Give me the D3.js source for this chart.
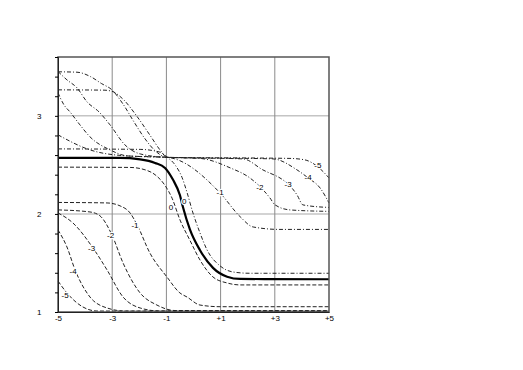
<!DOCTYPE html>
<html>
<head>
<meta charset="utf-8">
<script src="https://cdn.jsdelivr.net/npm/d3@7"></script>
<style>
  body { margin: 0; background: #fff; }
  text { font-family: "Liberation Sans", Arial, sans-serif; }
</style>
</head>
<body>
<svg width="523" height="370"></svg>
<script>
// tick values
var xTicks = [-5, -3, -1, 1, 3, 5];
var yTicks = [1, 2, 3];
var xGrid = [-3, -1, 1, 3];
var yGrid = [2, 3];

// bold reference curve
var solid = [[-5, 2.571], [-2.71, 2.571], [-1.97, 2.556], [-1.42, 2.52], [-1.05, 2.469], [-0.76, 2.35],
    [-0.5, 2.19], [-0.39, 2.07], [-0.13, 1.84], [0.24, 1.63], [0.72, 1.45], [1.24, 1.36], [1.72, 1.337], [5, 1.334]];

// dashed family
var dash0 = [[-5, 2.477], [-2.34, 2.474], [-1.79, 2.45], [-1.42, 2.40], [-1.05, 2.29], [-0.79, 2.16], [-0.5, 1.94],
    [-0.13, 1.73], [0.24, 1.53], [0.72, 1.357], [1.24, 1.296], [1.72, 1.276], [5, 1.276]];
var dash1 = [[-5, 2.117], [-3.19, 2.112], [-2.71, 2.082], [-2.34, 2.010], [-2.08, 1.888], [-1.61, 1.602],
    [-0.98, 1.357], [-0.5, 1.194], [-0.24, 1.153], [0.24, 1.071], [0.98, 1.054], [5, 1.054]];
var dash2 = [[-5, 2.041], [-3.82, 2.020], [-3.45, 1.980], [-3.01, 1.786], [-2.6, 1.500], [-1.97, 1.194],
    [-1.35, 1.071], [-0.68, 1.015], [5, 1.013]];
var dash3 = [[-5, 2.010], [-4.45, 1.908], [-3.71, 1.653], [-3.19, 1.429], [-2.6, 1.153], [-1.97, 1.041],
    [-1.24, 1.010], [5, 1.010]];
var dash4 = [[-5, 1.837], [-4.67, 1.663], [-4.37, 1.429], [-3.82, 1.153], [-3.19, 1.041], [-2.53, 1.010], [5, 1.008]];
var dash5 = [[-5, 1.316], [-4.67, 1.194], [-4.08, 1.051], [-3.56, 1.010], [5, 1.007]];

// dash-dot family
var dd0 = [[-5, 2.663], [-1.97, 2.658], [-1.24, 2.63], [-0.98, 2.58], [-0.68, 2.50], [-0.42, 2.37], [-0.24, 2.22],
    [-0.02, 2.01], [0.24, 1.806], [0.5, 1.633], [0.98, 1.47], [1.46, 1.408], [2.08, 1.395], [5, 1.395]];
var dd1 = [[-5, 2.806], [-3.82, 2.653], [-2.49, 2.592], [-0.98, 2.577], [0.98, 2.214], [1.72, 1.972],
    [2.2, 1.867], [3.19, 1.842], [5, 1.842]];
var dd2 = [[-5, 3.235], [-4.78, 3.112], [-4.56, 3.041], [-4.19, 2.908], [-3.82, 2.786], [-3.08, 2.653],
    [-2.45, 2.592], [-0.98, 2.577], [0.24, 2.566], [1.35, 2.47], [2.08, 2.367], [2.45, 2.279], [2.82, 2.163],
    [3.01, 2.092], [3.56, 2.041], [5, 2.026]];
var dd3 = [[-5, 3.452], [-4.67, 3.367], [-4.30, 3.286], [-3.93, 3.143], [-3.49, 3.041], [-3.08, 2.908],
    [-2.53, 2.704], [-1.97, 2.612], [-0.98, 2.577], [1.83, 2.561], [2.56, 2.449], [3.30, 2.347], [3.49, 2.306],
    [3.82, 2.194], [4.04, 2.092], [5, 2.066]];
var dd4 = [[-5, 3.449], [-4.3, 3.445], [-3.8, 3.40], [-3.4, 3.33], [-3.01, 3.265], [-2.6, 3.12], [-2.2, 2.94],
    [-1.8, 2.77], [-1.4, 2.64], [-0.98, 2.577], [2.93, 2.561], [3.82, 2.449], [4.23, 2.367], [4.67, 2.265], [5, 2.112]];
var dd5 = [[-5, 3.265], [-3.3, 3.262], [-3.01, 3.25], [-2.6, 3.17], [-2.1, 3.0], [-1.6, 2.8], [-1.2, 2.64],
    [-0.98, 2.577], [3.56, 2.566], [4.11, 2.551], [4.59, 2.480], [5, 2.367]];

// curve labels
var dashLabels = [["0", -0.83, 2.07], ["-1", -2.16, 1.888], ["-2", -3.06, 1.786], ["-3", -3.76, 1.653],
    ["-4", -4.44, 1.411], ["-5", -4.74, 1.173]];
var ddLabels = [["0", -0.34, 2.126], ["-1", 0.98, 2.224], ["-2", 2.45, 2.276], ["-3", 3.49, 2.306],
    ["-4", 4.23, 2.378], ["-5", 4.59, 2.5]];

var svg = d3.select("svg");
var margin = { left: 58, top: 57, right: 329, bottom: 312 };

var x = d3.scaleLinear().domain([-5, 5]).range([margin.left, margin.right]);
var y = d3.scaleLinear().domain([1, 3.6]).range([margin.bottom, margin.top]);

var line = d3.line()
    .x(function (d) { return x(d[0]); })
    .y(function (d) { return y(d[1]); })
    .curve(d3.curveMonotoneX);

// grid
svg.append("g").selectAll("line").data(yGrid).enter().append("line")
    .attr("x1", margin.left).attr("x2", margin.right)
    .attr("y1", function (d) { return y(d); }).attr("y2", function (d) { return y(d); })
    .attr("stroke", "#c4c4c4").attr("stroke-width", 1.5);
svg.append("g").selectAll("line").data(xGrid).enter().append("line")
    .attr("y1", margin.top).attr("y2", margin.bottom)
    .attr("x1", function (d) { return x(d); }).attr("x2", function (d) { return x(d); })
    .attr("stroke", "#8a8a8a").attr("stroke-width", 1);

// curves
var curves = svg.append("g").attr("fill", "none");
[dash0, dash1, dash2, dash3, dash4, dash5].forEach(function (s) {
    curves.append("path").datum(s).attr("d", line)
        .attr("stroke", "#222").attr("stroke-width", 1).attr("stroke-dasharray", "4,2");
});
[dd0, dd1, dd2, dd3, dd4, dd5].forEach(function (s) {
    curves.append("path").datum(s).attr("d", line)
        .attr("stroke", "#222").attr("stroke-width", 1).attr("stroke-dasharray", "4,2,1,2");
});
curves.append("path").datum(solid).attr("d", line)
    .attr("stroke", "#000").attr("stroke-width", 2.2);

// labels on curves
svg.append("g").selectAll("text").data(dashLabels.concat(ddLabels)).enter().append("text")
    .attr("x", function (d) { return x(d[1]); })
    .attr("y", function (d) { return y(d[2]); })
    .attr("dy", "0.35em")
    .attr("text-anchor", "middle")
    .attr("font-size", 8)
    .attr("stroke", "#fff").attr("stroke-width", 2.5).attr("paint-order", "stroke")
    .attr("fill", "#000")
    .text(function (d) { return d[0]; });

// frame
svg.append("rect")
    .attr("x", margin.left).attr("y", margin.top)
    .attr("width", margin.right - margin.left).attr("height", margin.bottom - margin.top)
    .attr("fill", "none").attr("stroke", "#555").attr("stroke-width", 1.5);

// axes
var yAxis = d3.axisLeft(y).tickValues(d3.range(1, 3.61, 0.2)).tickSize(3).tickFormat("");
svg.append("g").attr("transform", "translate(" + margin.left + ",0)").call(yAxis)
    .call(function (g) { g.select(".domain").attr("stroke", "#222"); });
svg.append("g").selectAll("text").data(yTicks).enter().append("text")
    .attr("x", margin.left - 21).attr("y", function (d) { return y(d); })
    .attr("dy", "0.35em").attr("font-size", 8).attr("fill", "#000")
    .text(function (d) { return d; });

var xAxis = d3.axisBottom(x).tickValues(xTicks).tickSize(0)
    .tickFormat(function (d) { return d > 0 ? "+" + d : d; });
svg.append("g").attr("transform", "translate(0," + margin.bottom + ")").call(xAxis)
    .call(function (g) {
        g.select(".domain").attr("stroke", "#222");
        g.selectAll("text").attr("font-size", 8).attr("fill", "#000").attr("dy", "0.75em")
            .attr("font-family", "Liberation Sans, Arial, sans-serif");
    });
</script>
</body>
</html>
